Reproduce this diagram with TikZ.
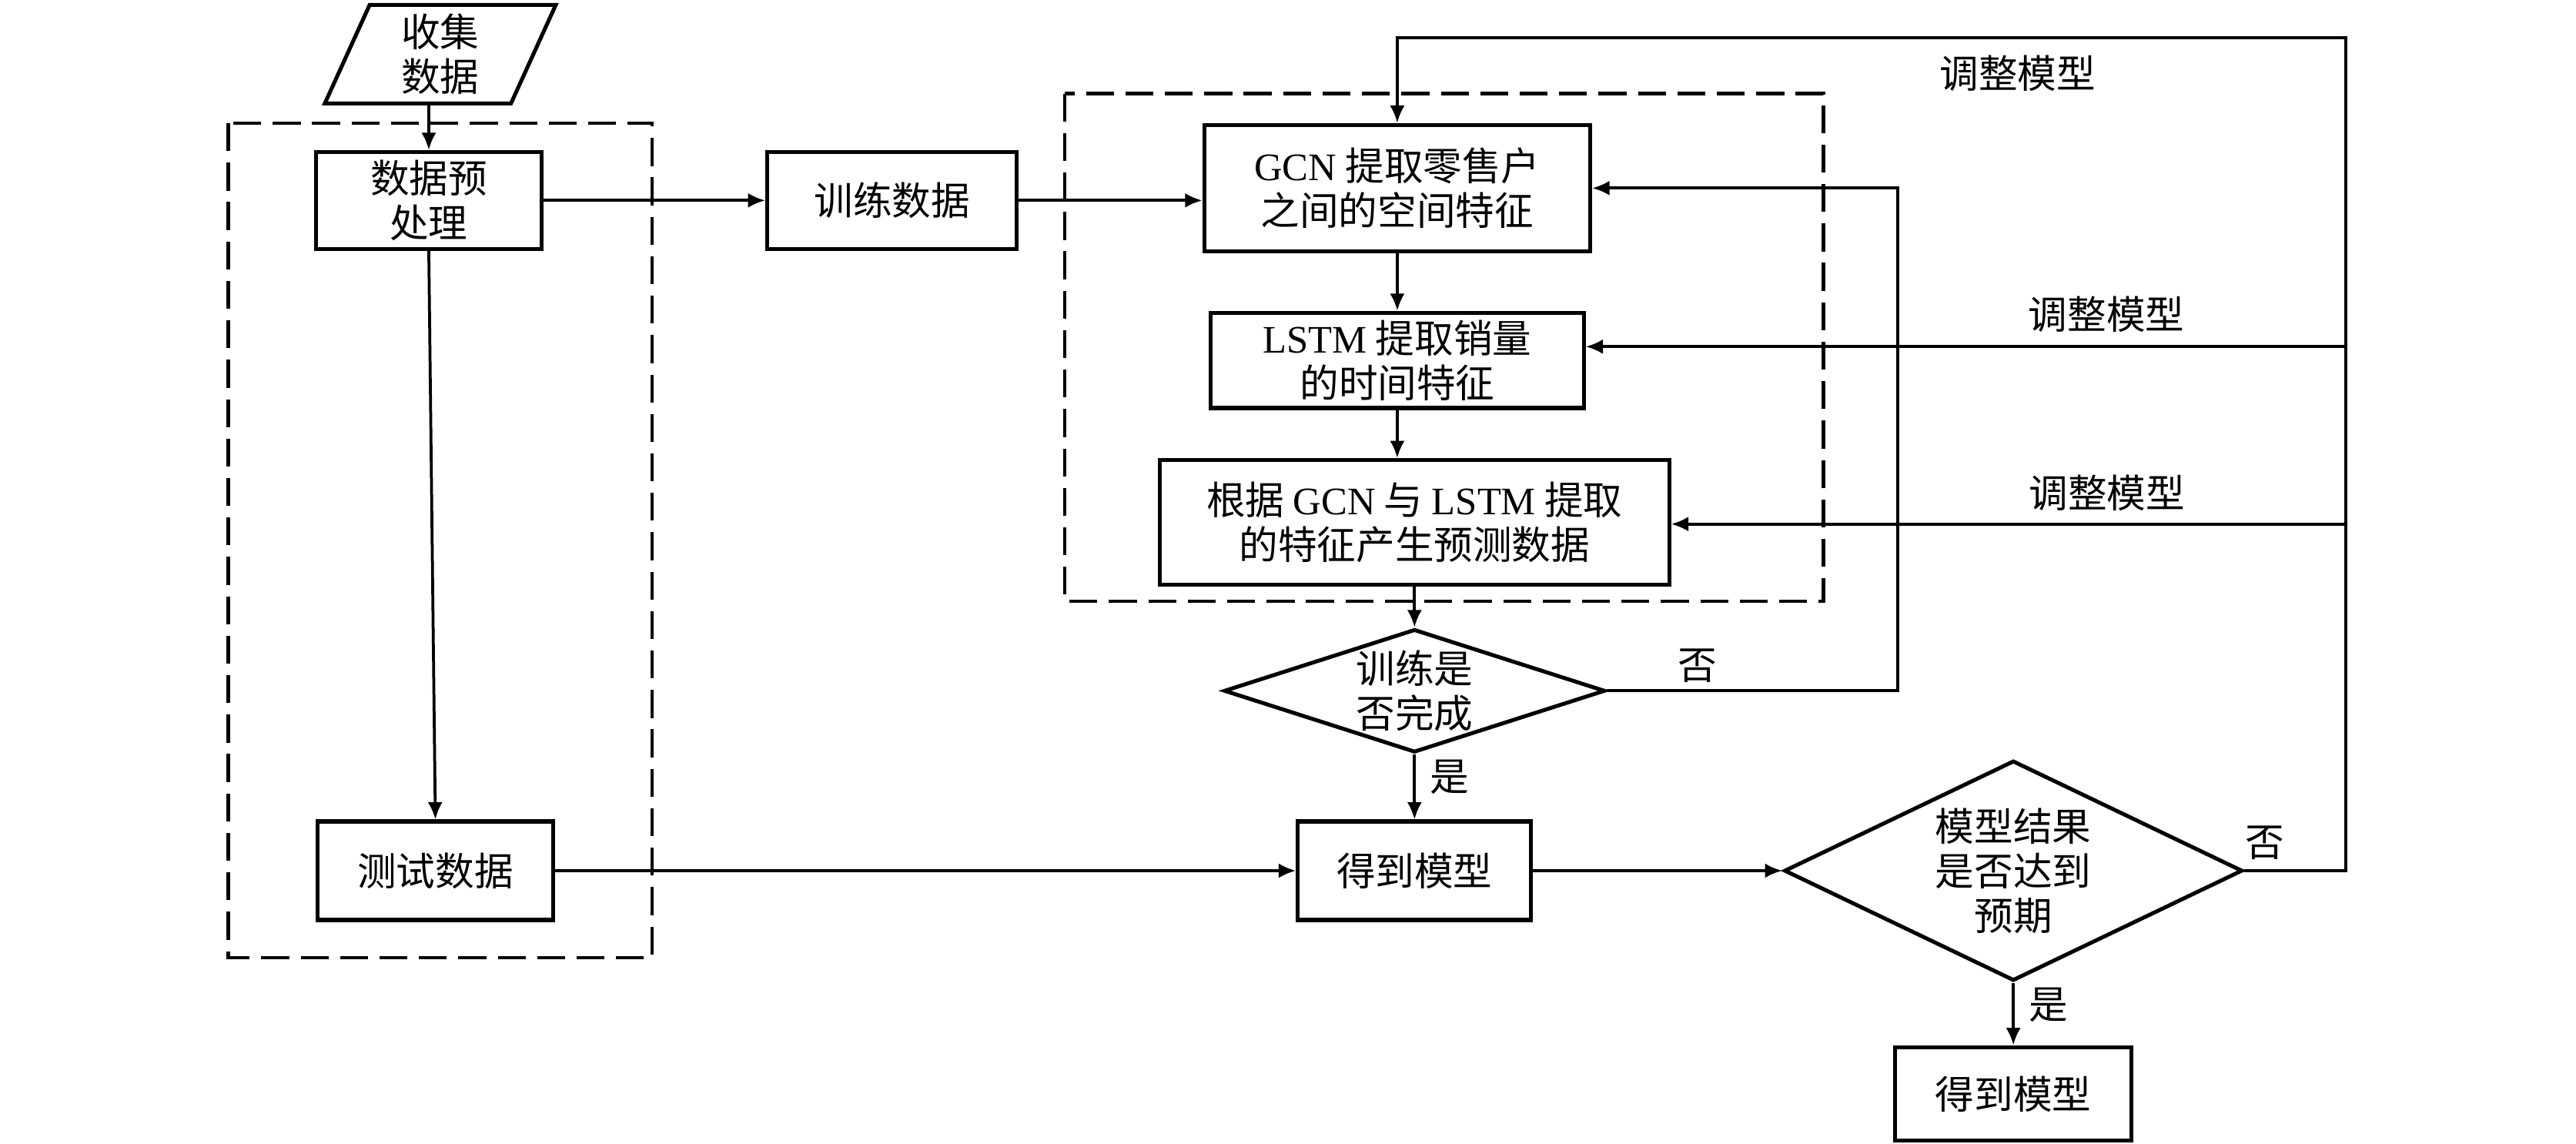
\documentclass[tikz,border=0pt]{standalone}
\usepackage{fontspec}
\setmainfont{Liberation Serif}
\newfontfamily\cjk{Noto Sans CJK SC}
\usetikzlibrary{shapes.geometric,arrows.meta,positioning}
\newcommand{\eng}[1]{{\rmfamily #1}}

\begin{document}
\begin{tikzpicture}[
            font=\cjk\fontsize{13.5}{15.5}\selectfont,
            box/.style={rectangle, draw, line width=1.35pt, align=center, inner sep=1pt},
            decision/.style={diamond, draw, line width=1.35pt, inner sep=0pt},
            dataio/.style={trapezium, trapezium left angle=73, trapezium right angle=107, trapezium stretches=true, draw, line width=1.35pt, align=center, inner sep=0pt},
            group/.style={draw, line width=1.2pt, dash pattern=on 0.34cm off 0.14cm},
            arrow/.style={-{Latex[length=2.1mm, width=1.8mm]}, line width=1pt},
            note/.style={inner sep=0pt}
        ]
            \useasboundingbox (0,0) rectangle (31.36,-13.92);

            % Data side
            \node[dataio, minimum width=2.82cm, minimum height=1.2cm] (collect) at (5.36,-0.66) {收集\\数据};
            \node[box, minimum width=2.74cm, minimum height=1.18cm] (pre) at (5.22,-2.44) {数据预\\处理};
            \node[box, minimum width=2.86cm, minimum height=1.2cm] (test) at (5.30,-10.6) {测试数据};
            \node[box, minimum width=3.04cm, minimum height=1.18cm] (train) at (10.86,-2.44) {训练数据};

            % Model training
            \node[box, minimum width=4.7cm, minimum height=1.54cm] (gcn) at (17.01,-2.29) {\eng{GCN} 提取零售户\\之间的空间特征};
            \node[box, minimum width=4.54cm, minimum height=1.16cm, below=0.7cm of gcn] (lstm) {\eng{LSTM} 提取销量\\的时间特征};
            \node[box, minimum width=6.2cm, minimum height=1.52cm] (gen) at (17.22,-6.36) {根据 \eng{GCN} 与 \eng{LSTM} 提取\\的特征产生预测数据};
            \node[decision, minimum width=4.64cm, minimum height=1.5cm, label={[align=center]center:训练是\\否完成}] (check) at (17.22,-8.41) {};
            \node[box, minimum width=2.84cm, minimum height=1.2cm] (model) at (17.22,-10.6) {得到模型};

            % Evaluation
            \node[decision, minimum width=5.58cm, minimum height=2.68cm, label={[align=center]center:模型结果\\是否达到\\预期}] (goal) at (24.51,-10.6) {};
            \node[box, minimum width=2.88cm, minimum height=1.14cm, below=0.76cm of goal] (final) {得到模型};

            % Groups
            \draw[group] (2.78,-1.5) rectangle (7.94,-11.66);
            \draw[group] (12.96,-1.14) rectangle (22.2,-7.32);

            % Feedback points
            \coordinate (top) at (28.56,-0.46);
            \coordinate (adjlstm) at (28.56,-4.22);
            \coordinate (adjgen) at (28.56,-6.38);
            \coordinate (loop) at (23.1,0);

            % Arrows
            \draw[arrow] (collect.south -| pre.north) -- (pre.north);
            \draw[arrow] (pre.east) -- (train.west);
            \draw[arrow] (train.east) -- (train.east -| gcn.west);
            \draw[arrow] (pre.south) -- (test.north);
            \draw[arrow] (gcn.south) -- (lstm.north);
            \draw[arrow] (lstm.south) -- (lstm.south |- gen.north);
            \draw[arrow] (gen.south) -- (check.north);
            \draw[arrow] (check.south) -- node[right=0.17cm, pos=0.35, note] {是} (model.north);
            \draw[arrow] (check.east) -- node[above=0.08cm, pos=0.31, note] {否} (check.east -| loop) -- (gcn.east -| loop) -- (gcn.east);
            \draw[arrow] (test.east) -- (model.west);
            \draw[arrow] (model.east) -- (goal.west);
            \draw[arrow] (goal.south) -- node[right=0.17cm, pos=0.35, note] {是} (final.north);
            \draw[arrow] (goal.east) -- node[above=0.12cm, pos=0.2, note] {否} (goal.east -| top) -- (top)
                -- node[below=0.2cm, pos=0.346, note] {调整模型} (top -| gcn.north) -- (gcn.north);
            \draw[arrow] (adjlstm) -- node[above=0.16cm, pos=0.315, note] {调整模型} (adjlstm -| lstm.east);
            \draw[arrow] (adjgen) -- node[above=0.14cm, pos=0.354, note] {调整模型} (adjgen -| gen.east);
        \end{tikzpicture}
\end{document}
